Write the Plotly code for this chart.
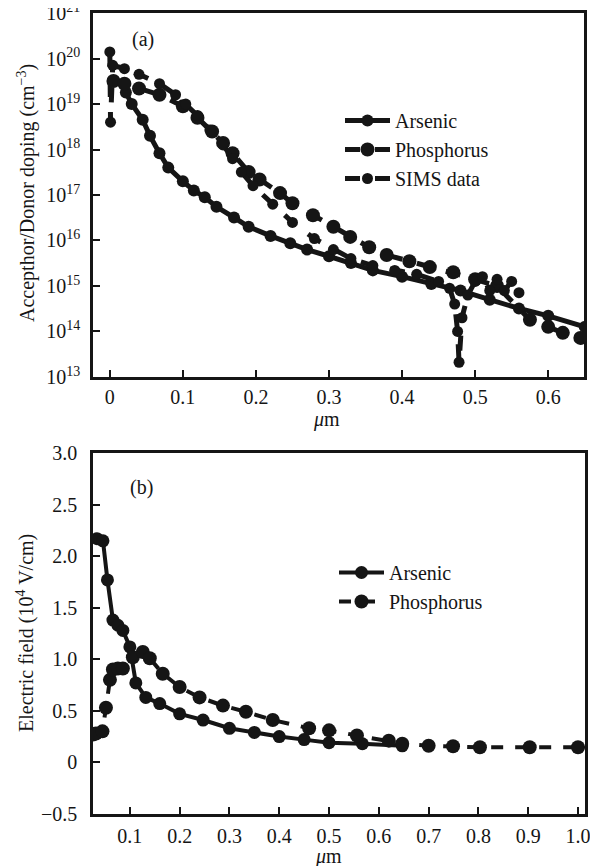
import plotly.graph_objects as go

# page body adds an 8px margin, so the figure is 8px smaller and all positions shifted
OX, OY = 8, 8
W, H = 598 - OX, 866 - OY

# ---------------- Panel (a): doping profiles ----------------
as_x = [0.022, 0.03, 0.045, 0.055, 0.068, 0.08, 0.1, 0.115, 0.13, 0.146, 0.17, 0.19, 0.22,
        0.247, 0.27, 0.3, 0.33, 0.36, 0.4, 0.44, 0.48, 0.52, 0.56, 0.6, 0.65]
as_y = [1.8e19, 1.0e19, 4.5e18, 2.0e18, 8.3e17, 4.0e17, 2.0e17, 1.26e17, 8.9e16, 5.5e16, 3.2e16,
        2.0e16, 1.26e16, 8.7e15, 6.3e15, 4.5e15, 3.2e15, 2.2e15, 1.6e15, 1.1e15, 7.9e14, 5.0e14,
        3.2e14, 2.2e14, 1.26e14]

ph_x = [0.005, 0.02, 0.04, 0.068, 0.1, 0.12, 0.14, 0.155, 0.168, 0.19, 0.205, 0.233, 0.25, 0.278,
        0.306, 0.329, 0.355, 0.379, 0.41, 0.438, 0.47, 0.5, 0.53, 0.575, 0.6, 0.62, 0.644]
ph_y = [3.2e19, 2.8e19, 2.2e19, 1.6e19, 8.9e18, 5.0e18, 2.5e18, 1.4e18, 8.3e17, 3.2e17, 2.2e17,
        1.1e17, 6.6e16, 3.6e16, 2.0e16, 1.2e16, 7.1e15, 4.8e15, 3.5e15, 2.6e15, 2.0e15, 1.4e15,
        1.0e15, 1.8e14, 1.26e14, 9.3e13, 7.2e13]

sims_x = [0.0, 0.001, 0.004, 0.02, 0.04, 0.068, 0.09, 0.104, 0.12, 0.137, 0.155, 0.168, 0.18,
          0.196, 0.223, 0.25, 0.28, 0.306, 0.33, 0.36, 0.39, 0.42, 0.45, 0.465, 0.472, 0.476,
          0.478, 0.482, 0.49, 0.5, 0.51, 0.52, 0.53, 0.54, 0.55, 0.56]
sims_y = [1.4e20, 4.0e18, 7.1e19, 6.0e19, 4.5e19, 2.8e19, 1.6e19, 1.0e19, 5.6e18, 2.7e18, 1.26e18,
          6.3e17, 3.2e17, 1.6e17, 6.3e16, 2.5e16, 1.1e16, 6.3e15, 4.0e15, 2.8e15, 2.2e15, 1.8e15,
          1.26e15, 8.9e14, 4.0e14, 1.0e14, 2.1e13, 2.0e14, 6.3e14, 1.26e15, 1.6e15, 7.9e14, 1.4e15,
          7.9e14, 1.26e15, 7.1e14]

a_xticks = [0, 0.1, 0.2, 0.3, 0.4, 0.5, 0.6]
a_xticklabels = ["0", "0.1", "0.2", "0.3", "0.4", "0.5", "0.6"]
a_yticks = [1e13, 1e14, 1e15, 1e16, 1e17, 1e18, 1e19, 1e20, 1e21]
a_yticklabels = ["10<sup>13</sup>", "10<sup>14</sup>", "10<sup>15</sup>", "10<sup>16</sup>",
                 "10<sup>17</sup>", "10<sup>18</sup>", "10<sup>19</sup>", "10<sup>20</sup>",
                 "10<sup>21</sup>"]

# ---------------- Panel (b): electric field ----------------
efa_x = [0.034, 0.046, 0.055, 0.066, 0.076, 0.086, 0.1, 0.112, 0.132, 0.16, 0.2, 0.247, 0.3,
         0.35, 0.4, 0.45, 0.5, 0.567, 0.647]
efa_y = [2.17, 2.15, 1.77, 1.38, 1.33, 1.28, 1.12, 0.77, 0.63, 0.57, 0.47, 0.41, 0.33, 0.29,
         0.25, 0.22, 0.19, 0.18, 0.16]

efp_x = [0.026, 0.032, 0.045, 0.052, 0.06, 0.066, 0.076, 0.086, 0.106, 0.126, 0.14, 0.166, 0.2,
         0.24, 0.287, 0.333, 0.387, 0.46, 0.5, 0.556, 0.62, 0.647, 0.7, 0.749, 0.803, 0.903, 1.0]
efp_y = [0.27, 0.28, 0.3, 0.53, 0.8, 0.9, 0.91, 0.91, 1.02, 1.07, 1.01, 0.86, 0.73, 0.63, 0.55,
         0.49, 0.41, 0.33, 0.31, 0.26, 0.21, 0.18, 0.16, 0.155, 0.146, 0.146, 0.146]

b_xticks = [0.1, 0.2, 0.3, 0.4, 0.5, 0.6, 0.7, 0.8, 0.9, 1.0]
b_xticklabels = ["0.1", "0.2", "0.3", "0.4", "0.5", "0.6", "0.7", "0.8", "0.9", "1.0"]
b_yticks = [-0.5, 0, 0.5, 1.0, 1.5, 2.0, 2.5, 3.0]
b_yticklabels = ["\u22120.5", "0", "0.5", "1.0", "1.5", "2.0", "2.5", "3.0"]

FONT = "Liberation Serif"
INK = "#151515"

def px(x):
    return (x - OX) / W

def py(y):
    return 1 - (y - OY) / H

fig = go.Figure()

# panel (a)
fig.add_trace(go.Scatter(x=as_x, y=as_y, name="Arsenic", mode="lines+markers",
                         line=dict(color=INK, width=5),
                         marker=dict(size=12, color=INK),
                         xaxis="x", yaxis="y", legend="legend", legendgroup="a1"))
fig.add_trace(go.Scatter(x=ph_x, y=ph_y, name="Phosphorus", mode="lines+markers",
                         line=dict(color=INK, width=5, dash="dash"),
                         marker=dict(size=14, color=INK),
                         xaxis="x", yaxis="y", legend="legend", legendgroup="a2"))
fig.add_trace(go.Scatter(x=sims_x, y=sims_y, name="SIMS data", mode="lines+markers",
                         line=dict(color=INK, width=5, dash="dash"),
                         marker=dict(size=11, color=INK),
                         xaxis="x", yaxis="y", legend="legend", legendgroup="a3"))

# panel (b)
fig.add_trace(go.Scatter(x=efa_x, y=efa_y, name="Arsenic", mode="lines+markers",
                         line=dict(color=INK, width=4),
                         marker=dict(size=13, color=INK),
                         xaxis="x2", yaxis="y2", legend="legend2", legendgroup="b1"))
fig.add_trace(go.Scatter(x=efp_x, y=efp_y, name="Phosphorus", mode="lines+markers",
                         line=dict(color=INK, width=4, dash="dash"),
                         marker=dict(size=14, color=INK),
                         xaxis="x2", yaxis="y2", legend="legend2", legendgroup="b2"))

axis_common = dict(showline=True, linecolor=INK, linewidth=2.5, mirror=True,
                   ticks="inside", ticklen=7, tickwidth=2, tickcolor=INK,
                   showgrid=False, zeroline=False, automargin=False,
                   ticklabeloverflow="allow",
                   tickfont=dict(family=FONT, size=20, color=INK))

fig.update_layout(
    template="none",
    width=W, height=H,
    margin=dict(l=0, r=0, t=0, b=0, pad=0),
    paper_bgcolor="white", plot_bgcolor="white",
    font=dict(family=FONT, size=20, color=INK),
    xaxis=dict(domain=[px(93), px(584)], range=[-0.023, 0.649], anchor="y",
               tickvals=a_xticks, ticktext=a_xticklabels, ticklabelstandoff=0, **axis_common),
    yaxis=dict(domain=[py(377), py(13)], type="log", range=[12.998, 21.002], anchor="x",
               tickvals=a_yticks, ticktext=a_yticklabels, ticklabelstandoff=6, **axis_common),
    xaxis2=dict(domain=[px(93), px(585)], range=[0.026, 1.014], anchor="y2",
                tickvals=b_xticks, ticktext=b_xticklabels, ticklabelstandoff=2, **axis_common),
    yaxis2=dict(domain=[py(814), py(453)], range=[-0.502, 3.002], anchor="x2",
                tickvals=b_yticks, ticktext=b_yticklabels, ticklabelstandoff=9, **axis_common),
    legend=dict(x=px(340), y=py(101), xanchor="left", yanchor="top",
                bgcolor="rgba(0,0,0,0)", borderwidth=0, itemwidth=45,
                tracegroupgap=0, font=dict(family=FONT, size=20, color=INK)),
    legend2=dict(x=px(334), y=py(553), xanchor="left", yanchor="top",
                 bgcolor="rgba(0,0,0,0)", borderwidth=0, itemwidth=45,
                 tracegroupgap=0, font=dict(family=FONT, size=20, color=INK)),
    showlegend=True,
)

annotations = [
    dict(text="(a)", x=px(143), y=py(40)),
    dict(text="(b)", x=px(141), y=py(487)),
    dict(text="<i>\u03bc</i>m", x=px(326), y=py(420)),
    dict(text="<i>\u03bc</i>m", x=px(328), y=py(856)),
    dict(text="Accepthor/Donor doping (cm<sup>\u22123</sup>)", x=px(27), y=py(193), textangle=-90),
    dict(text="Electric field (10<sup>4</sup> V/cm)", x=px(25), y=py(633), textangle=-90),
]
for a in annotations:
    a.update(xref="paper", yref="paper", showarrow=False, xanchor="center", yanchor="middle",
             font=dict(family=FONT, size=20, color=INK))
fig.update_layout(annotations=annotations)

fig.write_html("out.html")
